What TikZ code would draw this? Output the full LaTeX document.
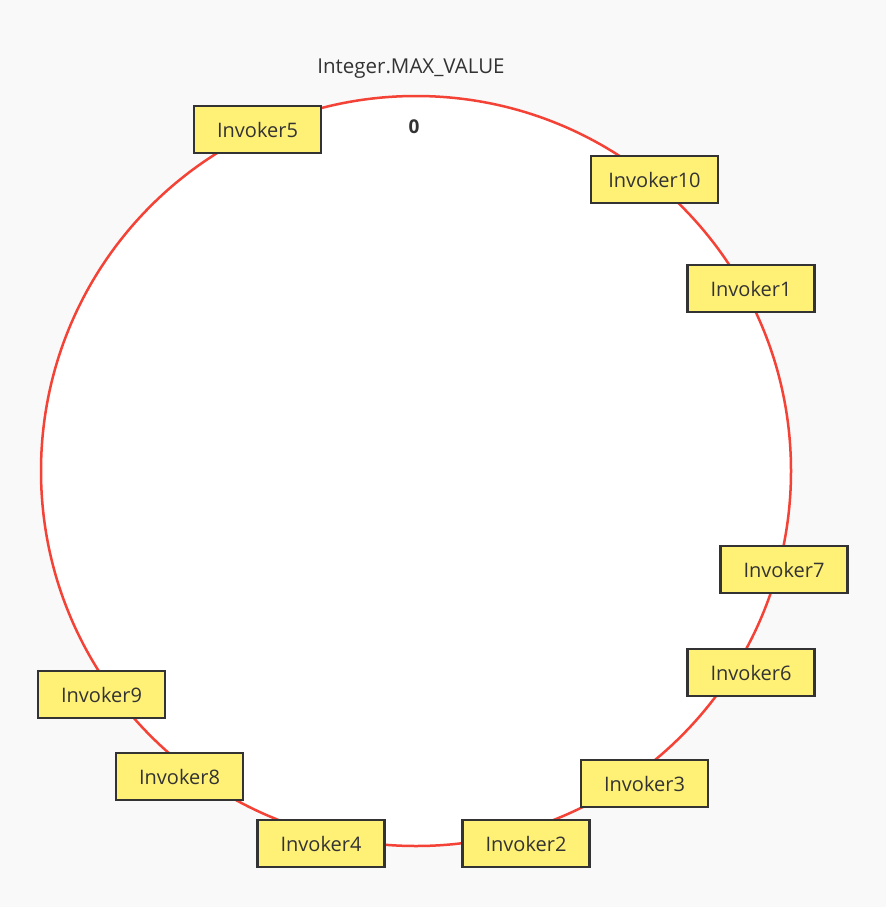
\documentclass[tikz,border=0pt]{standalone}
\usepackage{fontspec}
\setmainfont{Open Sans}
\usetikzlibrary{positioning}
\definecolor{bgcol}{HTML}{F9F9F9}
\definecolor{ringcol}{HTML}{F44336}
\definecolor{boxcol}{HTML}{FFF176}
\definecolor{inkcol}{HTML}{333333}
\tikzset{invoker/.style={draw=inkcol,fill=boxcol,line width=2.8pt,
    minimum width=127pt,minimum height=47pt,inner sep=0pt,
    text=inkcol,font=\fontsize{20}{22}\selectfont}}

\begin{document}
\begin{tikzpicture}[x=1pt,y=-1pt]
	\fill[bgcol] (0,0) rectangle (886,907);
	\useasboundingbox (0,0) rectangle (886,907);
	\filldraw[fill=white,draw=ringcol,line width=2.5pt] (416,471) circle (375);
	\node[text=inkcol,font=\fontsize{20.5}{22}\selectfont] (maxv) at (411,69) {Integer.MAX\_VALUE};
	\node[text=inkcol,font=\fontsize{19}{21}\selectfont\bfseries] (zero) at (414,127) {0};
	\node[invoker] (I5) at (257.5,129.5) {Invoker5};
	\node[invoker] (I10) at (654.5,179.5) {Invoker10};
	\node[invoker] (I1) at (751,288.5) {Invoker1};
	\node[invoker] (I7) at (784,569.5) {Invoker7};
	\node[invoker] (I6) at (751,672.5) {Invoker6};
	\node[invoker] (I3) at (644.5,783.5) {Invoker3};
	\node[invoker] (I2) at (526,843.5) {Invoker2};
	\node[invoker] (I4) at (321,843.5) {Invoker4};
	\node[invoker] (I8) at (179.5,776.5) {Invoker8};
	\node[invoker] (I9) at (101.5,694.5) {Invoker9};
\end{tikzpicture}
\end{document}
